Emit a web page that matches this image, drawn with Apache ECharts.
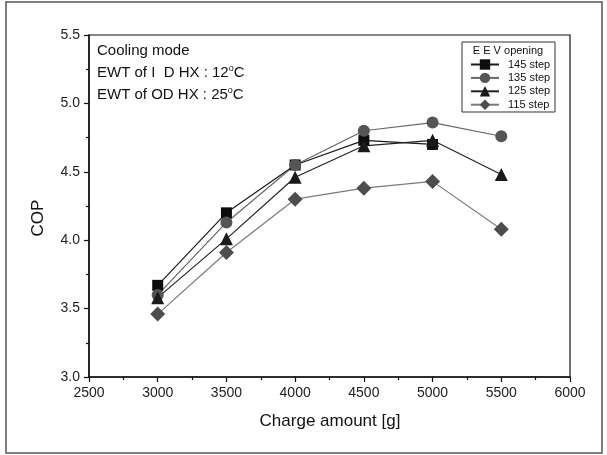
<!DOCTYPE html>
<html>
<head>
<meta charset="utf-8">
<title>COP vs charge amount</title>
<script src="https://cdn.jsdelivr.net/npm/echarts@6/dist/echarts.min.js"></script>
<style>
    html, body { margin: 0; padding: 0; background: #fff; }
    #chart { width: 607px; height: 455px; }
</style>
</head>
<body>
<div id="chart"></div>
<script>
    // charge amount [g]
    var chargeAmount = [3000, 3500, 4000, 4500, 5000, 5500];
    // COP per EEV opening (145 step has no point at 5500)
    var cop145 = [3.67, 4.20, 4.55, 4.73, 4.70];
    var cop135 = [3.60, 4.13, 4.55, 4.80, 4.86, 4.76];
    var cop125 = [3.58, 4.01, 4.46, 4.69, 4.73, 4.48];
    var cop115 = [3.46, 3.91, 4.30, 4.38, 4.43, 4.08];
    var seriesNames = ['145 step', '135 step', '125 step', '115 step'];
    var xTicks = [2500, 3000, 3500, 4000, 4500, 5000, 5500, 6000];
    var yTicks = [3.0, 3.5, 4.0, 4.5, 5.0, 5.5];

    var font = 'Liberation Sans, Arial, sans-serif';

    function pairs(vals) {
        var out = [];
        for (var i = 0; i < vals.length; i++) {
            out.push([chargeAmount[i], vals[i]]);
        }
        return out;
    }

    var chart = echarts.init(document.getElementById('chart'));

    var option = {
        animation: false,
        backgroundColor: '#fff',
        textStyle: { fontFamily: font },
        grid: {
            left: 89, top: 35, right: 37, bottom: 78,
            show: true, borderColor: '#111', borderWidth: 1.2
        },
        legend: {
            orient: 'vertical',
            left: 470, top: 59,
            itemWidth: 28, itemHeight: 13, itemGap: 2.4,
            padding: 0,
            textStyle: { fontFamily: font, fontSize: 11, color: '#111', padding: [0, 0, 0, 4] },
            data: seriesNames
        },
        xAxis: {
            type: 'value',
            min: xTicks[0], max: xTicks[xTicks.length - 1], interval: 500,
            axisLine: { lineStyle: { color: '#111', width: 1.5 } },
            axisTick: { show: true, inside: false, length: 5, lineStyle: { color: '#111', width: 1.2 } },
            minorTick: { show: true, splitNumber: 2, length: 3, lineStyle: { color: '#111', width: 1.2 } },
            splitLine: { show: false },
            axisLabel: {
                color: '#222', fontSize: 14, margin: 9, fontFamily: font,
                formatter: function (v) { return String(v); }
            }
        },
        yAxis: {
            type: 'value',
            min: yTicks[0], max: yTicks[yTicks.length - 1], interval: 0.5,
            axisLine: { show: true, lineStyle: { color: '#111', width: 1.5 } },
            axisTick: { show: true, inside: false, length: 5, lineStyle: { color: '#111', width: 1.2 } },
            minorTick: { show: true, splitNumber: 2, length: 3, lineStyle: { color: '#111', width: 1.2 } },
            splitLine: { show: false },
            axisLabel: {
                color: '#222', fontSize: 14, margin: 9, fontFamily: font,
                formatter: function (v) { return v.toFixed(1); }
            }
        },
        series: [
            {
                name: seriesNames[0], type: 'line', data: pairs(cop145),
                symbol: 'rect', symbolSize: 11,
                itemStyle: { color: '#0d0d0d' },
                lineStyle: { color: '#1a1a1a', width: 1.2 }
            },
            {
                name: seriesNames[1], type: 'line', data: pairs(cop135),
                symbol: 'circle', symbolSize: 12,
                itemStyle: { color: '#555' },
                lineStyle: { color: '#666', width: 1.2 }
            },
            {
                name: seriesNames[2], type: 'line', data: pairs(cop125),
                symbol: 'triangle', symbolSize: 13,
                itemStyle: { color: '#1a1a1a' },
                lineStyle: { color: '#222', width: 1.2 }
            },
            {
                name: seriesNames[3], type: 'line', data: pairs(cop115),
                symbol: 'diamond', symbolSize: 15,
                itemStyle: { color: '#4d4d4d' },
                lineStyle: { color: '#7a7a7a', width: 1.2 }
            }
        ],
        graphic: [
            // outer frame of the figure
            { type: 'rect', shape: { x: 6, y: 2, width: 596, height: 451 },
              style: { fill: 'none', stroke: '#555', lineWidth: 1.5 }, silent: true },
            // legend box + title
            { type: 'rect', shape: { x: 462, y: 42, width: 93, height: 70 },
              style: { fill: 'none', stroke: '#333', lineWidth: 1 }, silent: true },
            { type: 'text', x: 508, y: 51,
              style: { text: 'E E V opening', font: '11px ' + font, fill: '#111',
                       textAlign: 'center', textVerticalAlign: 'middle' } },
            // annotations
            { type: 'text', x: 97, y: 51,
              style: { text: 'Cooling mode', font: '15px ' + font, fill: '#111', textVerticalAlign: 'middle' } },
            { type: 'text', x: 97, y: 73,
              style: {
                  text: 'EWT of I  D HX : 12{s|o}C', font: '15px ' + font, fill: '#111', textVerticalAlign: 'middle',
                  rich: { s: { fontSize: 9, fontFamily: font, fill: '#111', padding: [0, 0, 8, 0] } }
              } },
            { type: 'text', x: 97, y: 95,
              style: {
                  text: 'EWT of OD HX : 25{s|o}C', font: '15px ' + font, fill: '#111', textVerticalAlign: 'middle',
                  rich: { s: { fontSize: 9, fontFamily: font, fill: '#111', padding: [0, 0, 8, 0] } }
              } },
            // axis titles
            { type: 'text', x: 330, y: 421,
              style: { text: 'Charge amount [g]', font: '17px ' + font, fill: '#111',
                       textAlign: 'center', textVerticalAlign: 'middle' } },
            { type: 'text', x: 38, y: 218, rotation: Math.PI / 2,
              style: { text: 'COP', font: '17px ' + font, fill: '#111',
                       textAlign: 'center', textVerticalAlign: 'middle' } }
        ]
    };

    chart.setOption(option);
</script>
</body>
</html>
